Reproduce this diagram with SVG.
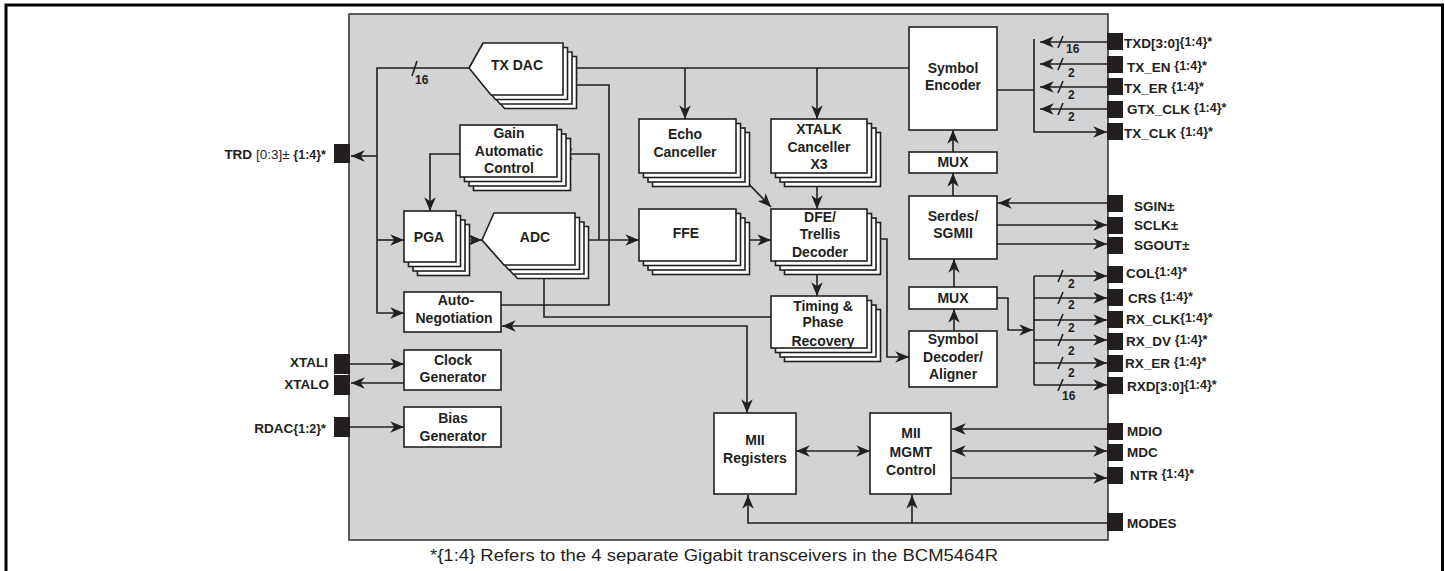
<svg xmlns="http://www.w3.org/2000/svg" width="1445" height="571" viewBox="0 0 1445 571">
<style>
.frame{fill:#fff;stroke:#000;stroke-width:3}
.chip{fill:#d1d3d4;stroke:#3a3a3a;stroke-width:1.6}
.box{fill:#fff;stroke:#231f20;stroke-width:1.6}
.ln{fill:none;stroke:#231f20;stroke-width:1.6}
.pin{fill:#231f20}
.t{font-family:"Liberation Sans",Arial,sans-serif;font-weight:bold;font-size:14px;fill:#231f20;text-anchor:middle}
.pl{font-family:"Liberation Sans",Arial,sans-serif;font-weight:bold;font-size:13.5px;fill:#231f20}
.sm{font-size:12.5px}
.rg{font-weight:normal}
.bw{font-family:"Liberation Sans",Arial,sans-serif;font-weight:bold;font-size:12px;fill:#231f20}
.cap{font-family:"Liberation Sans",Arial,sans-serif;font-size:16px;fill:#231f20;text-anchor:middle}
</style>
<defs>
<marker id="ah" viewBox="0 0 12 10" refX="12" refY="5" markerUnits="userSpaceOnUse" markerWidth="14" markerHeight="11.5" orient="auto-start-reverse">
<path d="M0,0 L12,5 L0,10 L3.5,5 Z" fill="#231f20"/>
</marker>
</defs>

<rect class="frame" x="6" y="5" width="1436.5" height="570"/>
<rect id="chip" class="chip" x="349" y="14" width="759" height="526"/>

<g id="pins">
<rect class="pin" x="334" y="144" width="16" height="19"/>
<rect class="pin" x="334" y="354" width="16" height="20"/>
<rect class="pin" x="334" y="375" width="16" height="20"/>
<rect class="pin" x="334" y="417" width="16" height="20"/>
<rect class="pin" x="1107" y="33" width="16" height="17"/>
<rect class="pin" x="1107" y="56" width="16" height="17"/>
<rect class="pin" x="1107" y="78" width="16" height="17"/>
<rect class="pin" x="1107" y="101" width="16" height="17"/>
<rect class="pin" x="1107" y="123" width="16" height="17"/>
<rect class="pin" x="1107" y="195" width="16" height="17"/>
<rect class="pin" x="1107" y="217" width="16" height="17"/>
<rect class="pin" x="1107" y="237" width="16" height="17"/>
<rect class="pin" x="1107" y="266" width="16" height="17"/>
<rect class="pin" x="1107" y="289" width="16" height="17"/>
<rect class="pin" x="1107" y="311" width="16" height="17"/>
<rect class="pin" x="1107" y="333" width="16" height="17"/>
<rect class="pin" x="1107" y="355" width="16" height="17"/>
<rect class="pin" x="1107" y="377" width="16" height="17"/>
<rect class="pin" x="1107" y="423" width="16" height="17"/>
<rect class="pin" x="1107" y="444" width="16" height="17"/>
<rect class="pin" x="1107" y="467" width="16" height="17"/>
<rect class="pin" x="1107" y="513" width="16" height="18"/>
</g>

<g id="pin-labels">
<text class="pl" x="326" y="159" text-anchor="end">TRD <tspan class="rg">[0:3]±</tspan> <tspan class="sm">{1:4}*</tspan></text>
<text class="pl" x="328" y="367" text-anchor="end">XTALI</text>
<text class="pl" x="329" y="389" text-anchor="end">XTALO</text>
<text class="pl" x="326" y="433" text-anchor="end">RDAC<tspan class="sm">{1:2}*</tspan></text>
<text class="pl" x="1124" y="48">TXD[3:0]<tspan class="sm" dy="-2">{1:4}*</tspan></text>
<text class="pl" x="1127" y="72">TX_EN <tspan class="sm" dy="-2">{1:4}*</tspan></text>
<text class="pl" x="1124" y="93">TX_ER <tspan class="sm" dy="-2">{1:4}*</tspan></text>
<text class="pl" x="1127" y="114">GTX_CLK <tspan class="sm" dy="-2">{1:4}*</tspan></text>
<text class="pl" x="1124" y="138">TX_CLK <tspan class="sm" dy="-2">{1:4}*</tspan></text>
<text class="pl" x="1134" y="211">SGIN±</text>
<text class="pl" x="1134" y="230">SCLK±</text>
<text class="pl" x="1134" y="250">SGOUT±</text>
<text class="pl" x="1126" y="278">COL<tspan class="sm" dy="-2">{1:4}*</tspan></text>
<text class="pl" x="1128" y="303">CRS <tspan class="sm" dy="-2">{1:4}*</tspan></text>
<text class="pl" x="1126" y="324">RX_CLK<tspan class="sm" dy="-2">{1:4}*</tspan></text>
<text class="pl" x="1126" y="346">RX_DV <tspan class="sm" dy="-2">{1:4}*</tspan></text>
<text class="pl" x="1125" y="368">RX_ER <tspan class="sm" dy="-2">{1:4}*</tspan></text>
<text class="pl" x="1127" y="391">RXD[3:0]<tspan class="sm" dy="-2">{1:4}*</tspan></text>
<text class="pl" x="1127" y="436">MDIO</text>
<text class="pl" x="1127" y="457">MDC</text>
<text class="pl" x="1130" y="480">NTR <tspan class="sm" dy="-2">{1:4}*</tspan></text>
<text class="pl" x="1127" y="528">MODES</text>
</g>

<g id="connectors">
<path class="ln" d="M469,68 H377 V313 H404" marker-end="url(#ah)"/>
<path class="ln" d="M377,240 H404" marker-end="url(#ah)"/>
<path class="ln" d="M377,156 H351" marker-end="url(#ah)"/>
<path class="ln" d="M909,68 H564" marker-end="url(#ah)"/>
<path class="ln" d="M685,68 V119" marker-end="url(#ah)"/>
<path class="ln" d="M817,68 V119" marker-end="url(#ah)"/>
<path class="ln" d="M501,305 H609 V85 H564" marker-end="url(#ah)"/>
<path class="ln" d="M575,240 H639" marker-end="url(#ah)"/>
<path class="ln" d="M599,240 V154 H559" marker-end="url(#ah)"/>
<path class="ln" d="M460,154 H430 V211" marker-end="url(#ah)"/>
<path class="ln" d="M456,240 H482" marker-end="url(#ah)"/>
<path class="ln" d="M771,317 H544 V266" marker-end="url(#ah)"/>
<path class="ln" d="M502,326 H747 V413" marker-start="url(#ah)" marker-end="url(#ah)"/>
<path class="ln" d="M350,364 H404" marker-end="url(#ah)"/>
<path class="ln" d="M404,383 H351" marker-end="url(#ah)"/>
<path class="ln" d="M350,427 H404" marker-end="url(#ah)"/>
<path class="ln" d="M745,180 L771,207" marker-end="url(#ah)"/>
<path class="ln" d="M817,173 V209" marker-end="url(#ah)"/>
<path class="ln" d="M736,240 H771" marker-end="url(#ah)"/>
<path class="ln" d="M817,261 V296" marker-end="url(#ah)"/>
<path class="ln" d="M867,239 H887 V357 H909" marker-end="url(#ah)"/>
<path class="ln" d="M954,331 V309" marker-end="url(#ah)"/>
<path class="ln" d="M954,287 V259" marker-end="url(#ah)"/>
<path class="ln" d="M953,196 V173" marker-end="url(#ah)"/>
<path class="ln" d="M953,152 V130" marker-end="url(#ah)"/>
<path class="ln" d="M997,90 H1034"/>
<path class="ln" d="M1034,39 V132 H1107" marker-end="url(#ah)"/>
<path class="ln" d="M1107,42 H1040" marker-end="url(#ah)"/>
<path class="ln" d="M1107,64 H1040" marker-end="url(#ah)"/>
<path class="ln" d="M1107,87 H1040" marker-end="url(#ah)"/>
<path class="ln" d="M1107,109 H1040" marker-end="url(#ah)"/>
<path class="ln" d="M1107,203 H998" marker-end="url(#ah)"/>
<path class="ln" d="M997,225 H1107" marker-end="url(#ah)"/>
<path class="ln" d="M997,244 H1107" marker-end="url(#ah)"/>
<path class="ln" d="M997,298 H1008 V330 H1033" marker-end="url(#ah)"/>
<path class="ln" d="M1034,276 V385"/>
<path class="ln" d="M1034,276 H1107" marker-end="url(#ah)"/>
<path class="ln" d="M1034,298 H1107" marker-end="url(#ah)"/>
<path class="ln" d="M1034,320 H1107" marker-end="url(#ah)"/>
<path class="ln" d="M1034,340 H1107" marker-end="url(#ah)"/>
<path class="ln" d="M1034,363 H1107" marker-end="url(#ah)"/>
<path class="ln" d="M1034,385 H1107" marker-end="url(#ah)"/>
<path class="ln" d="M1107,429 H952" marker-end="url(#ah)"/>
<path class="ln" d="M952,451 H1107" marker-start="url(#ah)" marker-end="url(#ah)"/>
<path class="ln" d="M951,478 H1107" marker-end="url(#ah)"/>
<path class="ln" d="M796,451 H870" marker-start="url(#ah)" marker-end="url(#ah)"/>
<path class="ln" d="M1107,523 H748 V495" marker-end="url(#ah)"/>
<path class="ln" d="M912,523 V495" marker-end="url(#ah)"/>
<g id="bus-marks">
<path class="ln" d="M412,76 L417,61"/>
<text class="bw" x="415" y="84">16</text>
<path class="ln" d="M1058,48 L1063,36 M1058,70 L1063,58 M1058,93 L1063,81 M1058,115 L1063,103"/>
<text class="bw" x="1066" y="53">16</text>
<text class="bw" x="1068" y="77">2</text>
<text class="bw" x="1068" y="99">2</text>
<text class="bw" x="1068" y="121">2</text>
<path class="ln" d="M1058,282 L1063,270 M1058,304 L1063,292 M1058,326 L1063,314 M1058,346 L1063,334 M1058,369 L1063,357 M1058,391 L1063,379"/>
<text class="bw" x="1068" y="288">2</text>
<text class="bw" x="1068" y="309">2</text>
<text class="bw" x="1068" y="332">2</text>
<text class="bw" x="1068" y="355">2</text>
<text class="bw" x="1068" y="377">2</text>
<text class="bw" x="1062" y="400">16</text>
</g>
</g>

<g id="tx-dac">
<polygon class="box" points="482.5,81.5 496.5,56.5 576.5,56.5 576.5,108.5 504.5,108.5"/>
<polygon class="box" points="478,77 492,52 572,52 572,104 500,104"/>
<polygon class="box" points="473.5,72.5 487.5,47.5 567.5,47.5 567.5,99.5 495.5,99.5"/>
<polygon class="box" points="469,68 483,43 563,43 563,95 491,95"/>
<text class="t" x="517" y="70">TX DAC</text>
</g>
<g id="gain-control">
<rect class="box" x="473.5" y="138.5" width="97" height="52"/>
<rect class="box" x="469" y="134" width="97" height="52"/>
<rect class="box" x="464.5" y="129.5" width="97" height="52"/>
<rect class="box" x="460" y="125" width="97" height="52"/>
<text class="t" x="509" y="138">Gain</text>
<text class="t" x="509" y="156">Automatic</text>
<text class="t" x="509" y="173">Control</text>
</g>
<g id="pga">
<rect class="box" x="417.5" y="224.5" width="52" height="51"/>
<rect class="box" x="413" y="220" width="52" height="51"/>
<rect class="box" x="408.5" y="215.5" width="52" height="51"/>
<rect class="box" x="404" y="211" width="52" height="51"/>
<text class="t" x="429" y="242">PGA</text>
</g>
<g id="adc">
<polygon class="box" points="495.5,253.5 507.5,226.5 588.5,226.5 588.5,278.5 517.5,278.5"/>
<polygon class="box" points="491,249 503,222 584,222 584,274 513,274"/>
<polygon class="box" points="486.5,244.5 498.5,217.5 579.5,217.5 579.5,269.5 508.5,269.5"/>
<polygon class="box" points="482,240 494,213 575,213 575,265 504,265"/>
<text class="t" x="535" y="242">ADC</text>
</g>
<g id="auto-negotiation">
<rect class="box" x="404" y="292" width="97" height="40"/>
<text class="t" x="456" y="305">Auto-</text>
<text class="t" x="454" y="323">Negotiation</text>
</g>
<g id="clock-generator">
<rect class="box" x="404" y="350" width="97" height="40"/>
<text class="t" x="453" y="365">Clock</text>
<text class="t" x="453" y="382">Generator</text>
</g>
<g id="bias-generator">
<rect class="box" x="404" y="407" width="97" height="40"/>
<text class="t" x="453" y="423">Bias</text>
<text class="t" x="453" y="441">Generator</text>
</g>
<g id="echo-canceller">
<rect class="box" x="652.5" y="132.5" width="97" height="54"/>
<rect class="box" x="648" y="128" width="97" height="54"/>
<rect class="box" x="643.5" y="123.5" width="97" height="54"/>
<rect class="box" x="639" y="119" width="97" height="54"/>
<text class="t" x="685" y="139">Echo</text>
<text class="t" x="685" y="157">Canceller</text>
</g>
<g id="xtalk-canceller">
<rect class="box" x="784.5" y="132.5" width="96" height="54"/>
<rect class="box" x="780" y="128" width="96" height="54"/>
<rect class="box" x="775.5" y="123.5" width="96" height="54"/>
<rect class="box" x="771" y="119" width="96" height="54"/>
<text class="t" x="819" y="134">XTALK</text>
<text class="t" x="819" y="152">Canceller</text>
<text class="t" x="819" y="169">X3</text>
</g>
<g id="ffe">
<rect class="box" x="652.5" y="222.5" width="97" height="52"/>
<rect class="box" x="648" y="218" width="97" height="52"/>
<rect class="box" x="643.5" y="213.5" width="97" height="52"/>
<rect class="box" x="639" y="209" width="97" height="52"/>
<text class="t" x="686" y="238">FFE</text>
</g>
<g id="dfe-trellis">
<rect class="box" x="784.5" y="222.5" width="96" height="52"/>
<rect class="box" x="780" y="218" width="96" height="52"/>
<rect class="box" x="775.5" y="213.5" width="96" height="52"/>
<rect class="box" x="771" y="209" width="96" height="52"/>
<text class="t" x="820" y="222">DFE/</text>
<text class="t" x="820" y="239">Trellis</text>
<text class="t" x="820" y="257">Decoder</text>
</g>
<g id="timing-recovery">
<rect class="box" x="784.5" y="309.5" width="96" height="52"/>
<rect class="box" x="780" y="305" width="96" height="52"/>
<rect class="box" x="775.5" y="300.5" width="96" height="52"/>
<rect class="box" x="771" y="296" width="96" height="52"/>
<text class="t" x="823" y="311">Timing &amp;</text>
<text class="t" x="823" y="327">Phase</text>
<text class="t" x="823" y="346">Recovery</text>
</g>
<g id="symbol-encoder">
<rect class="box" x="909" y="27" width="88" height="103"/>
<text class="t" x="953" y="73">Symbol</text>
<text class="t" x="953" y="90">Encoder</text>
</g>
<g id="mux-tx">
<rect class="box" x="909" y="152" width="88" height="21"/>
<text class="t" x="953" y="167">MUX</text>
</g>
<g id="serdes-sgmii">
<rect class="box" x="909" y="196" width="88" height="63"/>
<text class="t" x="953" y="221">Serdes/</text>
<text class="t" x="953" y="238">SGMII</text>
</g>
<g id="mux-rx">
<rect class="box" x="909" y="287" width="88" height="22"/>
<text class="t" x="953" y="303">MUX</text>
</g>
<g id="symbol-decoder">
<rect class="box" x="909" y="331" width="88" height="56"/>
<text class="t" x="953" y="344">Symbol</text>
<text class="t" x="953" y="362">Decoder/</text>
<text class="t" x="953" y="379">Aligner</text>
</g>
<g id="mii-registers">
<rect class="box" x="714" y="413" width="82" height="81"/>
<text class="t" x="755" y="445">MII</text>
<text class="t" x="755" y="463">Registers</text>
</g>
<g id="mii-mgmt">
<rect class="box" x="870" y="413" width="81" height="81"/>
<text class="t" x="911" y="438">MII</text>
<text class="t" x="911" y="457">MGMT</text>
<text class="t" x="911" y="475">Control</text>
</g>

<text class="cap" x="714" y="561" textLength="568" lengthAdjust="spacingAndGlyphs">*{1:4} Refers to the 4 separate Gigabit transceivers in the BCM5464R</text>
</svg>
